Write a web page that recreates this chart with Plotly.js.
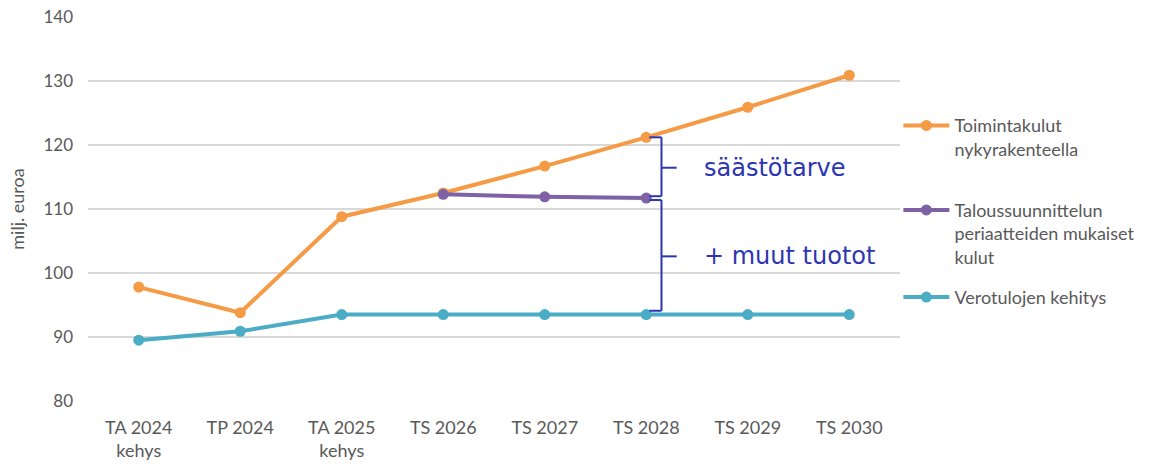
<!DOCTYPE html>
<html><head><meta charset="utf-8">
<script src="https://cdn.plot.ly/plotly-3.0.1.min.js"></script>
<style>body{margin:0;background:#fff}#c{width:1165px;height:465px}</style>
</head><body><div id="c"></div>
<script>
const categories = ["TA 2024 kehys","TP 2024","TA 2025 kehys","TS 2026","TS 2027","TS 2028","TS 2029","TS 2030"];
const tickLabels = ["TA 2024<br>kehys","TP 2024","TA 2025<br>kehys","TS 2026","TS 2027","TS 2028","TS 2029","TS 2030"];
const toimintakulut = [97.8, 93.8, 108.8, 112.5, 116.7, 121.2, 125.9, 130.9];
const suunnitelma = [null, null, null, 112.3, 111.9, 111.7, null, null];
const verotulot = [89.5, 90.9, 93.5, 93.5, 93.5, 93.5, 93.5, 93.5];
const seriesNames = ["Toimintakulut<br>nykyrakenteella","Taloussuunnittelun<br>periaatteiden mukaiset<br>kulut","Verotulojen kehitys"];
const braceLabels = ["säästötarve","+ muut tuotot"];

(function(){
const idx = categories.map((_, i) => i);
const colors = ["#F59A45", "#7E62A5", "#4BACC6"];
const mk = (y, n, c, lg) => ({x: idx, y: y, name: n, type: 'scatter', mode: 'lines+markers',
  line: {color: c, width: 4}, marker: {color: c, size: 11}, legend: lg, connectgaps: false});

const data = [
  mk(toimintakulut, seriesNames[0], colors[0], 'legend'),
  mk(suunnitelma, seriesNames[1], colors[1], 'legend2'),
  mk(verotulot, seriesNames[2], colors[2], 'legend3')
];

const bi = 5; // TS 2028
const yTop = toimintakulut[bi], yMid = suunnitelma[bi], yBot = verotulot[bi];
const bc = '#2B36B0';
const bx = bi + 0.15, hx = bi + 0.03, tx = bi + 0.3;
const ln = (x0, y0, x1, y1) => ({type: 'line', xref: 'x', yref: 'y', x0, y0, x1, y1, line: {color: bc, width: 2}});
const shapes = [
  ln(hx, yTop, bx, yTop), ln(bx, yTop, bx, yMid + 0.3), ln(hx, yMid + 0.3, bx, yMid + 0.3), ln(bx, (yTop + yMid) / 2, tx, (yTop + yMid) / 2),
  ln(hx, yMid - 0.3, bx, yMid - 0.3), ln(bx, yMid - 0.3, bx, yBot + 0.6), ln(hx, yBot + 0.6, bx, yBot + 0.6), ln(bx, (yMid + yBot) / 2, tx, (yMid + yBot) / 2)
];

const legFont = {family: 'Lato, sans-serif', size: 18, color: '#595959'};
const legBase = {font: legFont, xanchor: 'left', yanchor: 'top', valign: 'top', bgcolor: 'rgba(0,0,0,0)', itemwidth: 46};

const layout = {
  width: 1165, height: 465,
  margin: {l: 88, r: 265, t: 17, b: 64},
  paper_bgcolor: '#fff', plot_bgcolor: '#fff',
  showlegend: true,
  xaxis: {type: 'linear', range: [-0.5, 7.5], tickvals: idx, ticktext: tickLabels, showgrid: false, zeroline: false,
    showline: false, ticks: '', ticklabelstandoff: 14, tickfont: {family: 'Lato, sans-serif', size: 18, color: '#595959'}, fixedrange: true},
  yaxis: {range: [80, 140], dtick: 10, tick0: 80, gridcolor: '#D9D9D9', gridwidth: 1.5, zeroline: false, showline: false,
    ticks: '', ticklabelstandoff: 14, tickfont: {family: 'Lato, sans-serif', size: 17, color: '#595959'},
    title: {text: 'milj. euroa', font: {family: 'Lato, sans-serif', size: 18, color: '#595959'}, standoff: 14}},
  legend: Object.assign({}, legBase, {x: 0.998, y: 0.765}),
  legend2: Object.assign({}, legBase, {x: 0.998, y: 0.545}),
  legend3: Object.assign({}, legBase, {x: 0.998, y: 0.318}),
  shapes: shapes,
  annotations: [
    {x: bi + 0.55, y: (yTop + yMid) / 2, xref: 'x', yref: 'y', text: braceLabels[0], showarrow: false, xanchor: 'left',
      font: {family: 'DejaVu Sans, sans-serif', size: 24, color: bc}},
    {x: bi + 0.55, y: (yMid + yBot) / 2, xref: 'x', yref: 'y', text: braceLabels[1], showarrow: false, xanchor: 'left',
      font: {family: 'DejaVu Sans, sans-serif', size: 24, color: bc}}
  ]
};

Plotly.newPlot('c', data, layout, {displayModeBar: false, staticPlot: true});
})();
</script></body></html>
